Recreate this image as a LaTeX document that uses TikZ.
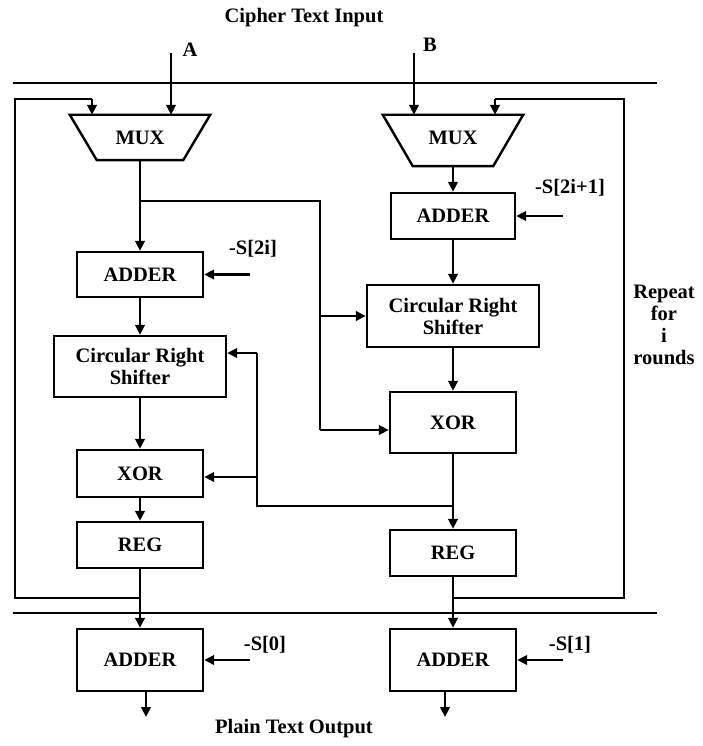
\documentclass[tikz,border=0pt]{standalone}
\usepackage{fontspec}
\setmainfont{Liberation Serif}
\usetikzlibrary{arrows.meta}
\begin{document}
\begin{tikzpicture}[x=1pt,y=-1pt,
  every node/.style={font=\fontsize{20.5}{22}\selectfont\bfseries, inner sep=0pt},
  blk/.style={draw, line width=2.4pt, minimum width=126pt},
  wire/.style={line width=2.4pt},
  arr/.style={line width=2.4pt, -{Triangle[length=10pt,width=9.5pt]}},
  rail/.style={line width=2.7pt}]
\useasboundingbox (0,0) rectangle (702,746);

% titles
\node (title) at (304,18) {Cipher Text Input};
\node (out) at (294,729) {Plain Text Output};
\node (lA) at (190,50) {A};
\node (lB) at (430,45) {B};
\node[align=center] (rep) at (664,325) {Repeat\\for\\i\\rounds};

% rails
\coordinate (r1a) at (13,83); \coordinate (r1b) at (657,83);
\coordinate (r2a) at (13,613); \coordinate (r2b) at (657,613);
\draw[rail] (r1a) -- (r1b);
\draw[rail] (r2a) -- (r2b);

% MUXes
\node[minimum width=140pt, minimum height=45pt] (muxL) at (140,137.5) {MUX};
\draw[wire, line join=miter] (muxL.north west) -- (muxL.north east) -- ([xshift=-27pt]muxL.south east) -- ([xshift=27pt]muxL.south west) -- cycle;
\node[minimum width=140pt, minimum height=51pt] (muxR) at (453,140.5) {};
\node at (453,138) {MUX};
\draw[wire, line join=miter] (muxR.north west) -- (muxR.north east) -- ([xshift=-30pt]muxR.south east) -- ([xshift=30pt]muxR.south west) -- cycle;

% left column blocks
\node[blk, minimum height=45pt] (addL) at (140,274.5) {ADDER};
\node[blk, minimum width=172pt, minimum height=61pt, align=center] (crsL) at (140,366.5) {Circular Right\\Shifter};
\node[blk, minimum height=47pt] (xorL) at (140,473.5) {XOR};
\node[blk, minimum height=46pt] (regL) at (140,545) {REG};
\node[blk, minimum height=62pt] (outL) at (140,660) {ADDER};

% right column blocks
\node[blk, minimum width=124pt, minimum height=46pt] (addR) at (453,216) {ADDER};
\node[blk, minimum width=172pt, minimum height=62pt, align=center] (crsR) at (453,316) {Circular Right\\Shifter};
\node[blk, minimum height=61pt] (xorR) at (453,422.5) {XOR};
\node[blk, minimum height=46pt] (regR) at (453,553) {REG};
\node[blk, minimum height=62pt] (outR) at (453,660) {ADDER};

% inputs A, B
\coordinate (Ain) at (171,53);
\coordinate (Bin) at (414,53);
\draw[arr] (Ain) -- (Ain |- muxL.north);
\draw[arr] (Bin) -- (Bin |- muxR.north);

% feedback loops
\coordinate (lpL1) at (140,598); \coordinate (lpL2) at (15,598);
\coordinate (lpL3) at (15,99);   \coordinate (lpL4) at (92,99);
\draw[wire] (lpL1) -- (lpL2) -- (lpL3) -- (lpL4);
\draw[arr] (lpL4) -- (lpL4 |- muxL.north);
\coordinate (lpR1) at (453,598); \coordinate (lpR2) at (624,598);
\coordinate (lpR3) at (624,99);  \coordinate (lpR4) at (495,99);
\draw[wire] (lpR1) -- (lpR2) -- (lpR3) -- (lpR4);
\draw[arr] (lpR4) -- (lpR4 |- muxR.north);

% left chain
\draw[arr] (muxL.south) -- (addL.north);
\draw[arr] (addL) -- (crsL);
\draw[arr] (crsL) -- (xorL);
\draw[arr] (xorL) -- (regL);
\draw[arr] (regL) -- (outL);

% right chain
\draw[arr] (muxR.south) -- (addR.north);
\draw[arr] (addR) -- (crsR);
\draw[arr] (crsR) -- (xorR);
\draw[arr] (xorR) -- (regR);
\draw[arr] (regR) -- (outR);

% branch from left MUX to right shifter / xor
\coordinate (br1) at (140,201); \coordinate (br2) at (320,201);
\coordinate (br3) at (320,316); \coordinate (br4) at (320,430);
\draw[wire] (br1) -- (br2) -- (br4);
\draw[arr] (br3) -- (br3 -| crsR.west);
\draw[arr] (br4) -- (br4 -| xorR.west);

% feedback from right XOR to left shifter / xor
\coordinate (fb1) at (453,506); \coordinate (fb2) at (257,506);
\coordinate (fb3) at (257,353); \coordinate (fb4) at (257,477);
\draw[wire] (fb1) -- (fb2) -- (fb3);
\draw[arr] (fb3) -- (fb3 -| crsL.east);
\draw[arr] (fb4) -- (fb4 -| xorL.east);

% subkey inputs
\coordinate (k1) at (250,274.5);
\coordinate (k2) at (563,216);
\coordinate (k3) at (250,660);
\coordinate (k4) at (563,660);
\draw[arr] (k1) -- (addL.east);
\draw[arr] (k2) -- (addR.east);
\draw[arr] (k3) -- (outL.east);
\draw[arr] (k4) -- (outR.east);
\node (s2i) at (253,249) {-S[2i]};
\node (s2i1) at (570,188) {-S[2i+1]};
\node (s0) at (265,645) {-S[0]};
\node (s1) at (570,645) {-S[1]};

% outputs
\coordinate (o1) at (146,691); \coordinate (o1e) at (146,717);
\coordinate (o2) at (445,691); \coordinate (o2e) at (445,717);
\draw[arr] (o1) -- (o1e);
\draw[arr] (o2) -- (o2e);
\end{tikzpicture}
\end{document}
